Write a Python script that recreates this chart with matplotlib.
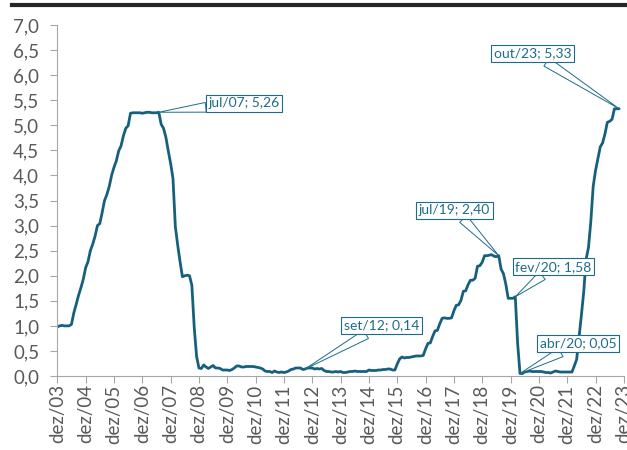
import numpy as np
import matplotlib
matplotlib.use('Agg')
import matplotlib.pyplot as plt
from matplotlib.lines import Line2D

plt.rcParams['font.family'] = ['Lato', 'DejaVu Sans']

# monthly rate, dez/03 .. out/23 (% a.a.)
rate_2003 = [0.98]
rate_2004 = [1.00, 1.01, 1.00, 1.00, 1.00, 1.03, 1.26, 1.43, 1.61, 1.76, 1.93, 2.16]
rate_2005 = [2.28, 2.50, 2.63, 2.79, 3.00, 3.04, 3.26, 3.50, 3.62, 3.78, 4.00, 4.16]
rate_2006 = [4.29, 4.49, 4.59, 4.79, 4.94, 4.99, 5.24, 5.25, 5.25, 5.25, 5.25, 5.24]
rate_2007 = [5.25, 5.26, 5.26, 5.25, 5.25, 5.25, 5.26, 5.02, 4.94, 4.76, 4.49, 4.24]
rate_2008 = [3.94, 2.98, 2.61, 2.28, 1.98, 2.00, 2.01, 2.00, 1.81, 0.97, 0.39, 0.16]
rate_2009 = [0.15, 0.22, 0.18, 0.15, 0.18, 0.21, 0.16, 0.16, 0.15, 0.12, 0.12, 0.12]
rate_2010 = [0.11, 0.13, 0.16, 0.20, 0.20, 0.18, 0.18, 0.19, 0.19, 0.19, 0.19, 0.18]
rate_2011 = [0.17, 0.16, 0.14, 0.10, 0.09, 0.09, 0.07, 0.10, 0.08, 0.07, 0.08, 0.07]
rate_2012 = [0.08, 0.10, 0.13, 0.14, 0.16, 0.16, 0.16, 0.13, 0.14, 0.16, 0.16, 0.16]
rate_2013 = [0.14, 0.15, 0.14, 0.15, 0.11, 0.09, 0.09, 0.08, 0.08, 0.09, 0.08, 0.09]
rate_2014 = [0.07, 0.07, 0.08, 0.09, 0.09, 0.10, 0.09, 0.09, 0.09, 0.09, 0.09, 0.12]
rate_2015 = [0.11, 0.11, 0.11, 0.12, 0.12, 0.13, 0.13, 0.14, 0.14, 0.12, 0.12, 0.24]
rate_2016 = [0.34, 0.38, 0.36, 0.37, 0.37, 0.38, 0.39, 0.40, 0.40, 0.40, 0.41, 0.54]
rate_2017 = [0.65, 0.66, 0.79, 0.90, 0.91, 1.04, 1.15, 1.16, 1.15, 1.15, 1.16, 1.30]
rate_2018 = [1.41, 1.42, 1.51, 1.69, 1.70, 1.82, 1.91, 1.91, 1.95, 2.19, 2.20, 2.27]
rate_2019 = [2.40, 2.40, 2.41, 2.42, 2.39, 2.38, 2.40, 2.13, 2.04, 1.83, 1.55, 1.55]
rate_2020 = [1.55, 1.58, 0.65, 0.05, 0.05, 0.08, 0.09, 0.10, 0.09, 0.09, 0.09, 0.09]
rate_2021 = [0.09, 0.08, 0.07, 0.07, 0.06, 0.08, 0.10, 0.09, 0.08, 0.08, 0.08, 0.08]
rate_2022 = [0.08, 0.08, 0.20, 0.33, 0.77, 1.21, 1.68, 2.33, 2.56, 3.08, 3.78, 4.10]
rate_2023 = [4.33, 4.57, 4.65, 4.83, 5.06, 5.08, 5.12, 5.33, 5.33, 5.33]

rate = (rate_2003 + rate_2004 + rate_2005 + rate_2006 + rate_2007 + rate_2008
        + rate_2009 + rate_2010 + rate_2011 + rate_2012 + rate_2013 + rate_2014
        + rate_2015 + rate_2016 + rate_2017 + rate_2018 + rate_2019 + rate_2020
        + rate_2021 + rate_2022 + rate_2023)
months = np.arange(len(rate))

tick_labels = ['dez/%02d' % y for y in range(3, 24)]

# callouts: (label, month index of point, box centre x in months, box centre y)
callouts = [
    ('jul/07; 5,26', 43, 79.2, 5.44),
    ('set/12; 0,14', 105, 137.4, 1.01),
    ('jul/19; 2,40', 187, 168.3, 3.31),
    ('fev/20; 1,58', 194, 210.2, 2.18),
    ('abr/20; 0,05', 196, 220.5, 0.65),
    ('out/23; 5,33', 238, 201.4, 6.44),
]

line_color = '#17607d'
label_color = '#1d6b8b'
axis_color = '#a6a6a6'
text_color = '#595959'

fig = plt.figure(figsize=(6.27, 4.5), dpi=100)
ax = fig.add_axes([0.0914, 0.1644, 0.9036, 0.78])

ax.plot(months, rate, color=line_color, lw=2.0, solid_capstyle='round')

for txt, i, bx, by in callouts:
    ax.annotate(txt, xy=(i, rate[i]), xytext=(bx, by), textcoords='data',
                ha='center', va='center', fontsize=10, color=label_color,
                bbox=dict(boxstyle='square,pad=0.18', fc='white', ec=label_color, lw=0.8),
                arrowprops=dict(arrowstyle='wedge,tail_width=0.7,shrink_factor=0.5',
                                fc='white', ec=label_color, lw=0.7,
                                shrinkA=0, shrinkB=0))

ax.set_xlim(0, 240)
ax.set_ylim(0, 7)
ax.set_xticks(np.arange(0, 241, 12))
ax.set_xticklabels(tick_labels, rotation=90, fontsize=13.5)
ax.set_yticks(np.arange(0, 7.01, 0.5))
ax.set_yticklabels([('%.1f' % v).replace('.', ',') for v in np.arange(0, 7.01, 0.5)],
                   fontsize=13.5)

for s in ['top', 'right']:
    ax.spines[s].set_visible(False)
for s in ['left', 'bottom']:
    ax.spines[s].set_color(axis_color)
    ax.spines[s].set_linewidth(0.8)
ax.tick_params(axis='both', colors=axis_color, labelcolor=text_color, length=5, width=0.8)
ax.tick_params(axis='x', pad=1)
ax.tick_params(axis='y', pad=8)

# dark rule across top of figure
fig.add_artist(Line2D([0.019, 1.0], [0.99, 0.99], transform=fig.transFigure,
                      color='#262626', lw=3))

fig.savefig('out.png', dpi=100)
